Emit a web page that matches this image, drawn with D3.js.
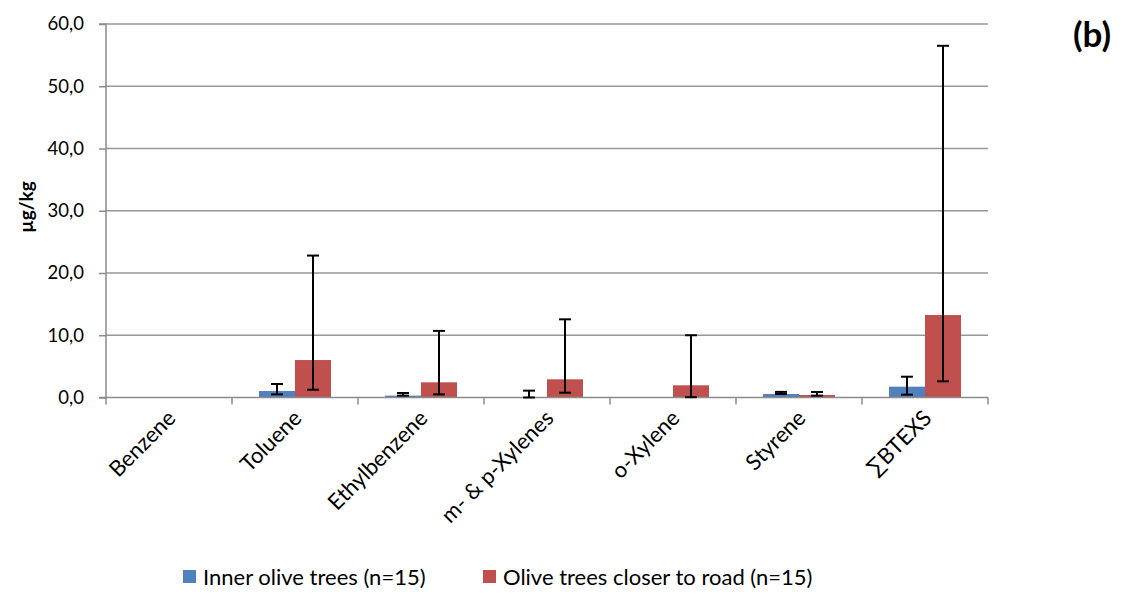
<!DOCTYPE html>
<html>
<head>
<meta charset="utf-8">
<script src="https://cdn.jsdelivr.net/npm/d3@7/dist/d3.min.js"></script>
<style>
  html, body { margin: 0; padding: 0; background: #fff; }
  svg { display: block; font-family: Lato, "Open Sans", sans-serif; }
</style>
</head>
<body>
<svg id="chart" width="1121" height="595"></svg>
<script>
// Compounds measured
const categories = ["Benzene", "Toluene", "Ethylbenzene", "m- & p-Xylenes", "o-Xylene", "Styrene", "\u2211BTEXS"];
const seriesNames = ["Inner olive trees (n=15)", "Olive trees closer to road (n=15)"];

// Mean concentrations (µg/kg)
const innerMean = [0.05, 1.04, 0.3, 0.05, 0.04, 0.56, 1.74];
const roadMean  = [0.05, 6.02, 2.44, 2.92, 1.96, 0.4, 13.25];

// Error bar extents (lower, upper)
const innerLow  = [null, 0.5, 0.3, 0.0, null, 0.56, 0.45];
const innerHigh = [null, 2.17, 0.72, 1.1, null, 0.9, 3.34];
const roadLow   = [null, 1.25, 0.5, 0.77, 0.05, 0.3, 2.6];
const roadHigh  = [null, 22.8, 10.7, 12.56, 10.0, 0.88, 56.5];

const yTicks = [0, 10, 20, 30, 40, 50, 60];
const colors = ["#4f81bd", "#c0504d"];

const svg = d3.select("#chart");
const margin = { left: 106, right: 133, top: 24, bottom: 197.5 };
const W = 1121, H = 595;
const plotW = W - margin.left - margin.right;
const plotH = H - margin.top - margin.bottom;

const x0 = d3.scaleBand().domain(categories).range([0, plotW]).paddingInner(0).paddingOuter(0);
const x1 = d3.scaleBand().domain([0, 1]).range([0, x0.bandwidth()]).paddingOuter(0.75).paddingInner(0);
const y = d3.scaleLinear().domain([0, 60]).range([plotH, 0]);

const g = svg.append("g").attr("transform", `translate(${margin.left},${margin.top})`);

// Horizontal gridlines
g.append("g").selectAll("line").data(yTicks.filter(t => t > 0)).join("line")
  .attr("x1", 0).attr("x2", plotW)
  .attr("y1", d => y(d)).attr("y2", d => y(d))
  .attr("stroke", "#979797").attr("stroke-width", 1.5);

// Bars
const rows = categories.map((c, i) => ({
  cat: c,
  vals: [
    { s: 0, v: innerMean[i], lo: innerLow[i], hi: innerHigh[i] },
    { s: 1, v: roadMean[i], lo: roadLow[i], hi: roadHigh[i] }
  ]
}));

const catG = g.selectAll("g.cat").data(rows).join("g")
  .attr("class", "cat")
  .attr("transform", d => `translate(${x0(d.cat)},0)`);

catG.selectAll("rect").data(d => d.vals).join("rect")
  .attr("x", d => x1(d.s))
  .attr("width", x1.bandwidth())
  .attr("y", d => y(d.v))
  .attr("height", d => y(0) - y(d.v))
  .attr("fill", d => colors[d.s]);

// Y axis
const yAxis = d3.axisLeft(y).tickValues(yTicks).tickSize(7).tickPadding(15)
  .tickFormat(d => d3.format(".1f")(d).replace(".", ","));
const ya = g.append("g").call(yAxis);
ya.select(".domain").attr("stroke", "#8c8c8c").attr("stroke-width", 1.5).attr("d", `M-7,0H0V${plotH}H-7`);
ya.selectAll(".tick line").attr("stroke", "#8c8c8c").attr("stroke-width", 1.5);
ya.selectAll(".tick text").attr("font-size", 18.5).attr("fill", "#000").attr("font-family", "Lato, sans-serif");

// X axis baseline and category dividers
const xa = g.append("g").attr("transform", `translate(0,${plotH})`);
xa.append("line").attr("x1", 0).attr("x2", plotW).attr("y1", 0).attr("y2", 0)
  .attr("stroke", "#8c8c8c").attr("stroke-width", 1.5);
const bounds = categories.map(c => x0(c)).concat([plotW]);
xa.selectAll("line.tk").data(bounds).join("line").attr("class", "tk")
  .attr("x1", d => d).attr("x2", d => d).attr("y1", 0).attr("y2", 7)
  .attr("stroke", "#8c8c8c").attr("stroke-width", 1.5);
xa.selectAll("text").data(categories).join("text")
  .attr("transform", d => `translate(${x0(d) + x0.bandwidth() / 2 + 8},${22}) rotate(-45)`)
  .attr("text-anchor", "end")
  .attr("font-size", 22)
  .text(d => d);

// Error bars
const errs = [];
rows.forEach(r => r.vals.forEach(v => { if (v.hi != null) errs.push({ cat: r.cat, ...v }); }));
const eg = g.append("g");
const cx = d => x0(d.cat) + x1(d.s) + x1.bandwidth() / 2;
eg.selectAll("line.v").data(errs).join("line").attr("class", "v")
  .attr("x1", cx).attr("x2", cx).attr("y1", d => y(d.lo)).attr("y2", d => y(d.hi))
  .attr("stroke", "#000").attr("stroke-width", 2);
["lo", "hi"].forEach(k => {
  eg.selectAll("line." + k).data(errs).join("line").attr("class", k)
    .attr("x1", d => cx(d) - 6).attr("x2", d => cx(d) + 6)
    .attr("y1", d => y(d[k])).attr("y2", d => y(d[k]))
    .attr("stroke", "#000").attr("stroke-width", 2);
});

// Y axis title
svg.append("text")
  .attr("transform", "translate(33,207) rotate(-90)")
  .attr("text-anchor", "middle")
  .attr("font-size", 19).attr("font-weight", "bold")
  .text("µg/kg");

// Panel label
svg.append("text").attr("x", 1111).attr("y", 47).attr("text-anchor", "end")
  .attr("font-size", 35).attr("font-weight", "bold").text("(b)");

// Legend
const legendX = [183, 483];
const lg = svg.append("g");
seriesNames.forEach((n, i) => {
  lg.append("rect").attr("x", legendX[i]).attr("y", 570).attr("width", 13).attr("height", 13).attr("fill", colors[i]);
  lg.append("text").attr("x", legendX[i] + 20).attr("y", 585).attr("font-size", 22).text(n);
});
</script>
</body>
</html>
